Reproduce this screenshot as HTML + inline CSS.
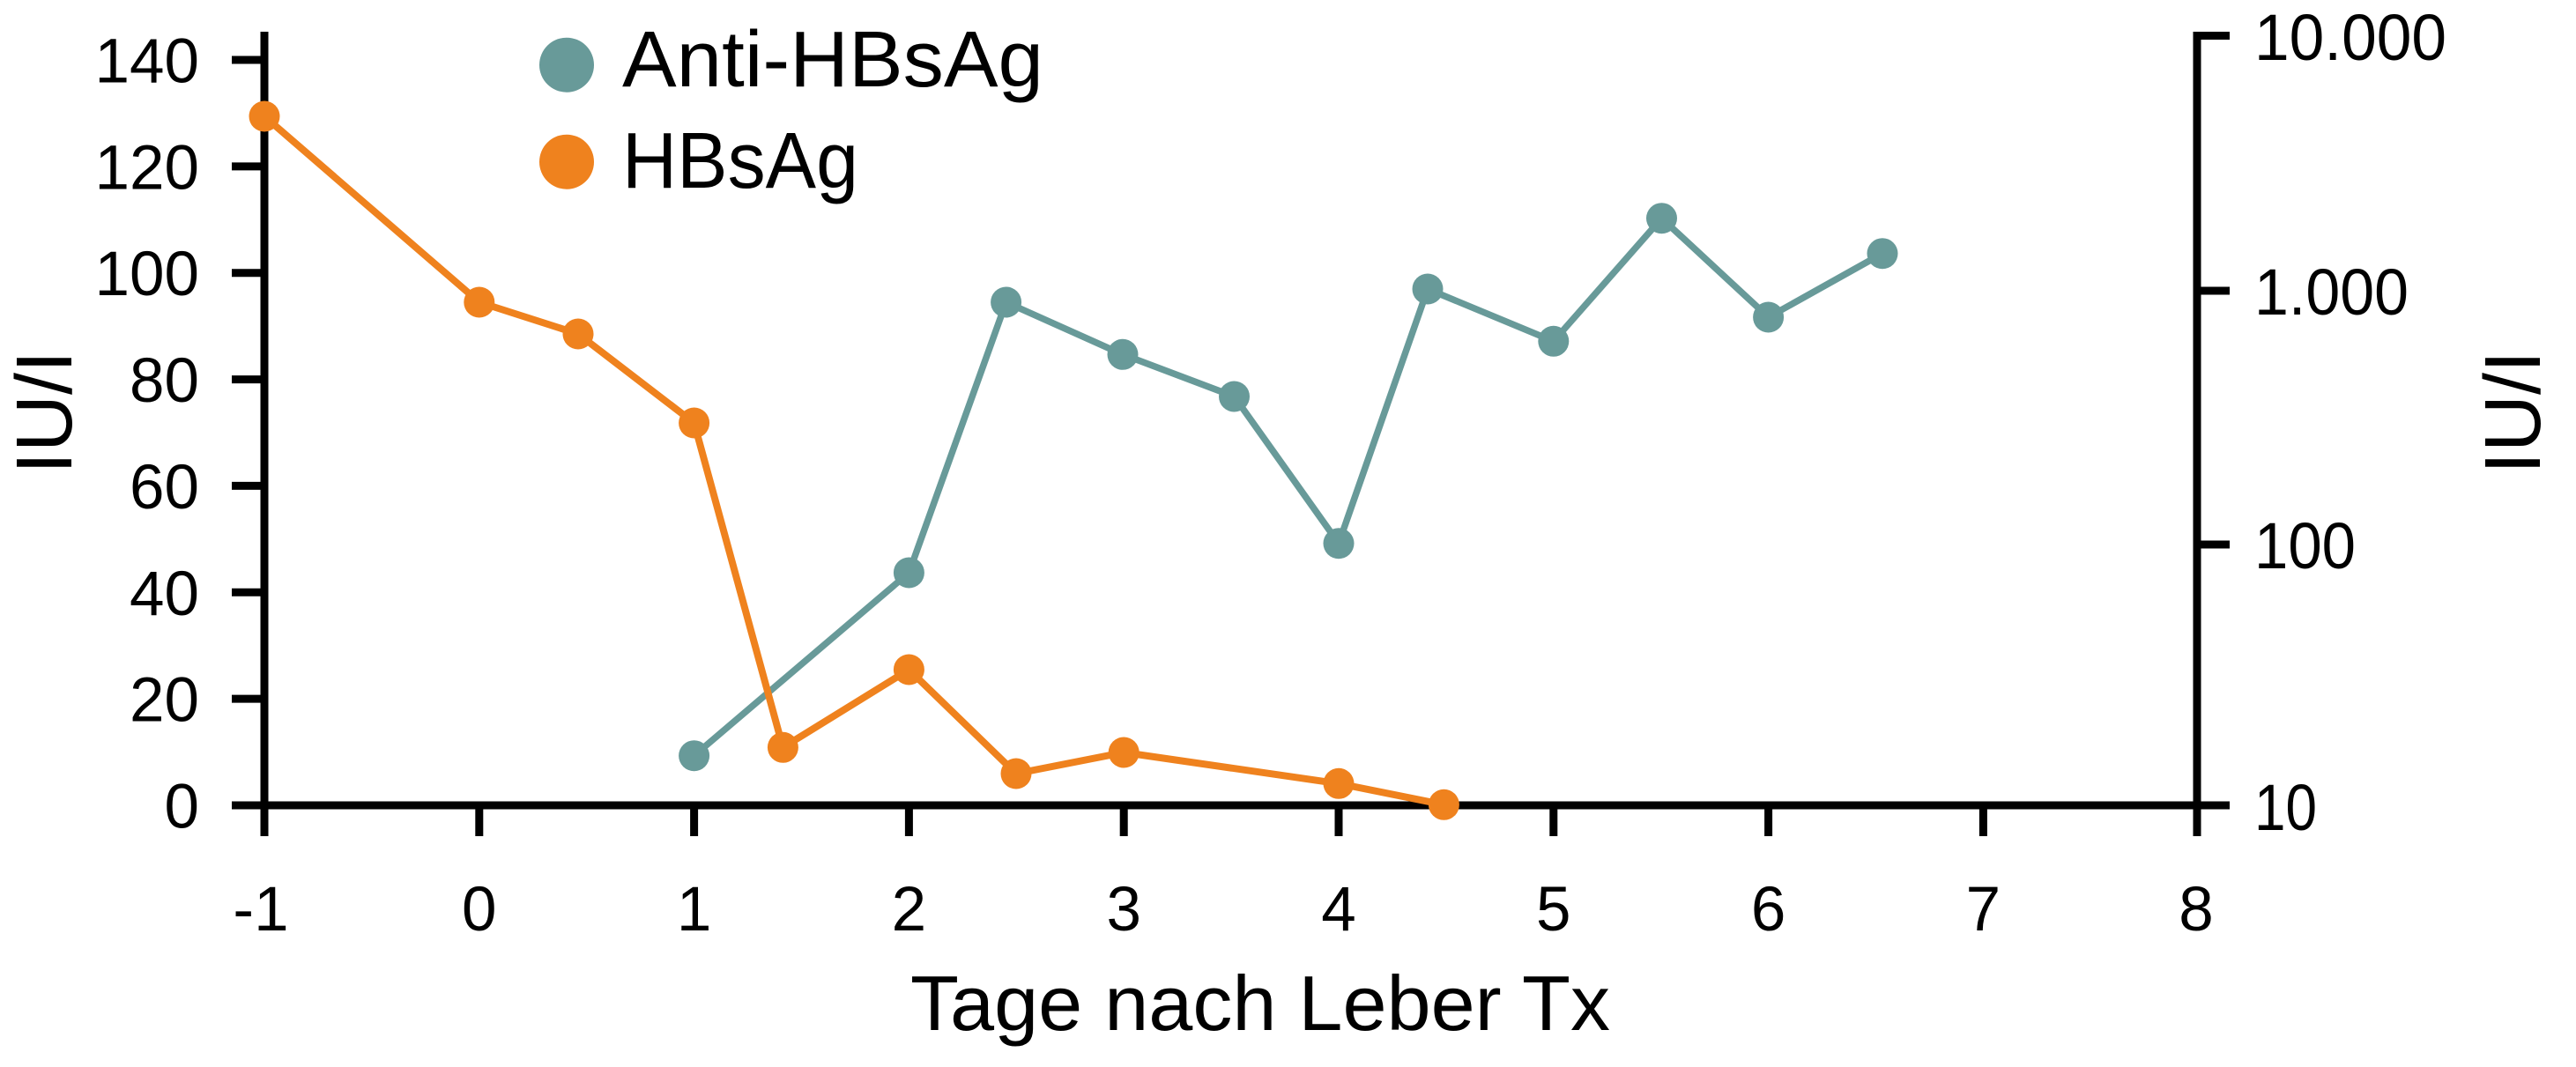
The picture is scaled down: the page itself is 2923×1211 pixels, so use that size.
<!DOCTYPE html>
<html>
<head>
<meta charset="utf-8">
<style>
html,body{margin:0;padding:0;background:#fff;}
svg{display:block;}
text{font-family:"Liberation Sans", "DejaVu Sans", sans-serif;fill:#000;}
</style>
</head>
<body>
<svg width="2923" height="1211" viewBox="0 0 2923 1211" xmlns="http://www.w3.org/2000/svg">
<rect width="2923" height="1211" fill="#fff"/>
<!-- axes -->
<g stroke="#000" stroke-width="9" fill="none">
  <line x1="300" y1="36" x2="300" y2="949"/>
  <line x1="263" y1="914" x2="2497" y2="914"/>
  <line x1="2493" y1="36" x2="2493" y2="949"/>
  <!-- left ticks -->
  <line x1="263" y1="793.1" x2="300" y2="793.1"/>
  <line x1="263" y1="672.3" x2="300" y2="672.3"/>
  <line x1="263" y1="551.4" x2="300" y2="551.4"/>
  <line x1="263" y1="430.6" x2="300" y2="430.6"/>
  <line x1="263" y1="309.7" x2="300" y2="309.7"/>
  <line x1="263" y1="188.9" x2="300" y2="188.9"/>
  <line x1="263" y1="68" x2="300" y2="68"/>
  <!-- bottom ticks -->
  <line x1="543.8" y1="914" x2="543.8" y2="949"/>
  <line x1="787.6" y1="914" x2="787.6" y2="949"/>
  <line x1="1031.4" y1="914" x2="1031.4" y2="949"/>
  <line x1="1275.2" y1="914" x2="1275.2" y2="949"/>
  <line x1="1519" y1="914" x2="1519" y2="949"/>
  <line x1="1762.8" y1="914" x2="1762.8" y2="949"/>
  <line x1="2006.6" y1="914" x2="2006.6" y2="949"/>
  <line x1="2250.4" y1="914" x2="2250.4" y2="949"/>
  <!-- right ticks -->
  <line x1="2493" y1="40.5" x2="2530" y2="40.5"/>
  <line x1="2493" y1="330" x2="2530" y2="330"/>
  <line x1="2493" y1="618" x2="2530" y2="618"/>
  <line x1="2493" y1="914" x2="2530" y2="914"/>
</g>

<!-- left tick labels -->
<g font-size="71" text-anchor="end">
  <text x="226" y="939.5">0</text>
  <text x="226" y="818.6">20</text>
  <text x="226" y="697.8">40</text>
  <text x="226" y="576.9">60</text>
  <text x="226" y="456.1">80</text>
  <text x="226" y="335.2">100</text>
  <text x="226" y="214.4">120</text>
  <text x="226" y="93.5">140</text>
</g>

<!-- bottom tick labels -->
<g font-size="71" text-anchor="middle">
  <text x="296" y="1056">-1</text>
  <text x="543.8" y="1056">0</text>
  <text x="787.6" y="1056">1</text>
  <text x="1031.4" y="1056">2</text>
  <text x="1275.2" y="1056">3</text>
  <text x="1519" y="1056">4</text>
  <text x="1762.8" y="1056">5</text>
  <text x="2006.6" y="1056">6</text>
  <text x="2250.4" y="1056">7</text>
  <text x="2492" y="1056">8</text>
</g>

<!-- right tick labels -->
<g font-size="74">
  <text x="2558" y="68" textLength="218" lengthAdjust="spacingAndGlyphs">10.000</text>
  <text x="2558" y="357" textLength="175" lengthAdjust="spacingAndGlyphs">1.000</text>
  <text x="2558" y="645" textLength="115" lengthAdjust="spacingAndGlyphs">100</text>
  <text x="2558" y="942" textLength="71" lengthAdjust="spacingAndGlyphs">10</text>
</g>

<!-- axis labels -->
<text font-size="90" text-anchor="middle" transform="translate(81,468) rotate(-90)">IU/I</text>
<text font-size="90" text-anchor="middle" transform="translate(2882,468) rotate(-90)">IU/I</text>
<text font-size="88" x="1033" y="1169" textLength="794" lengthAdjust="spacingAndGlyphs">Tage nach Leber Tx</text>

<!-- legend -->
<circle cx="643" cy="73.7" r="31" fill="#689a99"/>
<circle cx="643" cy="183.7" r="31" fill="#ef821e"/>
<text font-size="90" x="706" y="98" textLength="478" lengthAdjust="spacingAndGlyphs">Anti-HBsAg</text>
<text font-size="90" x="706" y="213" textLength="268" lengthAdjust="spacingAndGlyphs">HBsAg</text>

<!-- Anti-HBsAg series -->
<polyline fill="none" stroke="#689a99" stroke-width="7.5" stroke-linejoin="round"
  points="787.6,857.7 1031.4,650 1141.6,343 1274,402.3 1400.5,450 1519,616.7 1620,328 1762.8,387.3 1885.5,247.7 2006.6,360 2136,287.7"/>
<g fill="#689a99">
  <circle cx="787.6" cy="857.7" r="17.5"/>
  <circle cx="1031.4" cy="650" r="17.5"/>
  <circle cx="1141.6" cy="343" r="17.5"/>
  <circle cx="1274" cy="402.3" r="17.5"/>
  <circle cx="1400.5" cy="450" r="17.5"/>
  <circle cx="1519" cy="616.7" r="17.5"/>
  <circle cx="1620" cy="328" r="17.5"/>
  <circle cx="1762.8" cy="387.3" r="17.5"/>
  <circle cx="1885.5" cy="247.7" r="17.5"/>
  <circle cx="2006.6" cy="360" r="17.5"/>
  <circle cx="2136" cy="287.7" r="17.5"/>
</g>

<!-- HBsAg series -->
<polyline fill="none" stroke="#ef821e" stroke-width="8" stroke-linejoin="round"
  points="300,132 543.8,343 656,379 787.6,480 888.4,848.3 1031.4,760 1153,878 1275.2,854 1519,889.3 1638.4,913.3"/>
<g fill="#ef821e">
  <circle cx="300" cy="132" r="17.5"/>
  <circle cx="543.8" cy="343" r="17.5"/>
  <circle cx="656" cy="379" r="17.5"/>
  <circle cx="787.6" cy="480" r="17.5"/>
  <circle cx="888.4" cy="848.3" r="17.5"/>
  <circle cx="1031.4" cy="760" r="17.5"/>
  <circle cx="1153" cy="878" r="17.5"/>
  <circle cx="1275.2" cy="854" r="17.5"/>
  <circle cx="1519" cy="889.3" r="17.5"/>
  <circle cx="1638.4" cy="913.3" r="17.5"/>
</g>
</svg>
</body>
</html>
